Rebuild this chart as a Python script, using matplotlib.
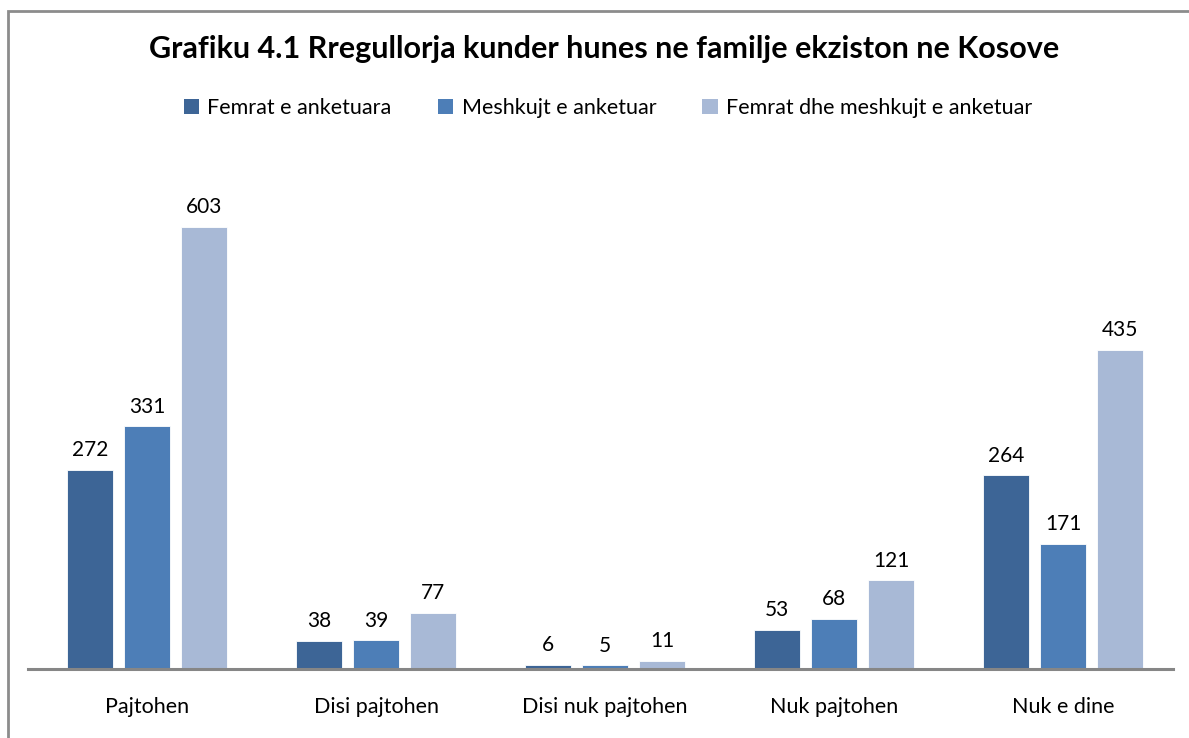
import numpy as np
import matplotlib
matplotlib.use('Agg')
import matplotlib.pyplot as plt
from matplotlib.patches import Patch, Rectangle

categories = ['Pajtohen', 'Disi pajtohen', 'Disi nuk pajtohen', 'Nuk pajtohen', 'Nuk e dine']
series_names = ['Femrat e anketuara', 'Meshkujt e anketuar', 'Femrat dhe meshkujt e anketuar']
femrat = [272, 38, 6, 53, 264]
meshkujt = [331, 39, 5, 68, 171]
totali = [603, 77, 11, 121, 435]
colors = ['#3D6596', '#4D7EB7', '#A8B9D6']

plt.rcParams['font.family'] = ['Lato', 'DejaVu Sans']

W, H = 1189, 738
fig = plt.figure(figsize=(W / 100, H / 100), dpi=100)

# outer frame of the chart object (goes past the right/bottom edge)
fig.patches.append(Rectangle((8 / W, -0.1), 1.2, 1 - 11 / H + 0.1, transform=fig.transFigure,
                             fill=False, edgecolor='#8C8C8C', linewidth=2))

ax = fig.add_axes([28 / W, 69 / H, 1145 / W, 519 / H])
x = np.arange(len(categories))
bw = 0.2
step = 0.25
for i, vals in enumerate([femrat, meshkujt, totali]):
    xs = x + (i - 1) * step
    ax.bar(xs, vals, width=bw, color=colors[i], edgecolor='white', linewidth=0.6, zorder=2)
    for xi, v in zip(xs, vals):
        ax.annotate(str(v), (xi, v), xytext=(0, 7), textcoords='offset points',
                    ha='center', va='bottom', fontsize=15, color='black')

ax.set_xlim(-0.52, 4.48)
ax.set_ylim(0, 708)
for s in ['top', 'right', 'left']:
    ax.spines[s].set_visible(False)
ax.spines['bottom'].set_color('#868686')
ax.spines['bottom'].set_linewidth(2.2)
ax.spines['bottom'].set_zorder(3)
ax.set_yticks([])
ax.set_xticks(x)
ax.set_xticklabels(categories, fontsize=15.5)
ax.tick_params(axis='x', length=0, pad=20)

fig.text(604 / W, 1 - 49 / H, 'Grafiku 4.1 Rregullorja kunder hunes ne familje ekziston ne Kosove',
         ha='center', va='center', fontsize=22, fontweight='bold')

handles = [Patch(facecolor=c, edgecolor='none') for c in colors]
fig.legend(handles, series_names, loc='center', bbox_to_anchor=(608 / W, 1 - 108 / H), ncol=3,
           frameon=False, fontsize=15.5, handlelength=0.7, handleheight=0.7,
           handletextpad=0.4, columnspacing=2.15)

fig.savefig('out.png', dpi=100)
